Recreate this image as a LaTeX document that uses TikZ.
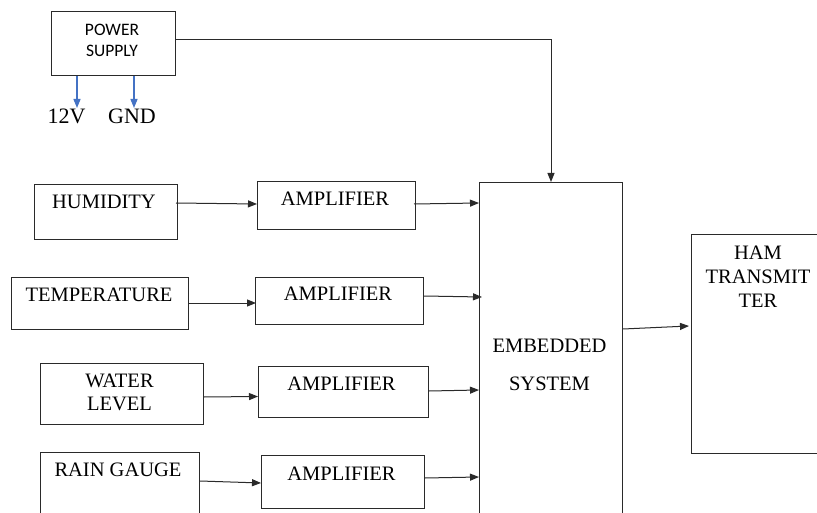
\documentclass[tikz,border=0pt]{standalone}
\usepackage{fontspec}
\setmainfont{Liberation Serif}
\newfontfamily\psfont{Carlito}
\usetikzlibrary{arrows.meta,calc}
\definecolor{linec}{HTML}{2A2A2A}
\definecolor{bluec}{HTML}{4472C4}
\begin{document}
\begin{tikzpicture}[x=1pt,y=-1pt,
  box/.style={draw=linec, line width=1pt, rectangle, anchor=north west, inner sep=0pt},
  lbl/.style={font=\rmfamily\fontsize{20.5}{24}\selectfont, align=center, inner sep=0pt, text=black},
  arr/.style={draw=linec, line width=1pt, -{Triangle[length=9pt,width=7pt]}},
  barr/.style={draw=bluec, line width=1.3pt, -{Triangle[length=9pt,width=7pt]}}]
\clip (0,0) rectangle (817,513);
\fill[white] (0,0) rectangle (817,513);
% boxes
\node[box, minimum width=124pt, minimum height=64pt] (ps) at (51,11) {};
\node[box, minimum width=143pt, minimum height=340pt] (emb) at (479,182) {};
\node[box, minimum width=140pt, minimum height=219pt] (ham) at (691,234) {};
\node[box, minimum width=143pt, minimum height=55pt] (hum) at (34,184) {};
\node[box, minimum width=158pt, minimum height=48pt] (a1) at (257,181) {};
\node[box, minimum width=177pt, minimum height=52pt] (tmp) at (11,277) {};
\node[box, minimum width=168pt, minimum height=47pt] (a2) at (255,277) {};
\node[box, minimum width=163pt, minimum height=61pt] (wat) at (40,363) {};
\node[box, minimum width=170pt, minimum height=51pt] (a3) at (258,366) {};
\node[box, minimum width=159pt, minimum height=75pt] (rain) at (40,452) {};
\node[box, minimum width=163pt, minimum height=53pt] (a4) at (261,455) {};
% texts
\node[inner sep=0pt, align=center, font=\psfont\fontsize{17.5}{21}\selectfont] (pst) at (112,40.5) {POWER\\SUPPLY};
\node[lbl, font=\rmfamily\fontsize{22}{26}\selectfont] (v12) at (66.5,116) {12V};
\node[lbl, font=\rmfamily\fontsize{22}{26}\selectfont] (gnd) at (132,116) {GND};
\node[lbl] (humt) at (104,202) {HUMIDITY};
\node[lbl] (a1t) at (335,199) {AMPLIFIER};
\node[lbl] (tmpt) at (99,295) {TEMPERATURE};
\node[lbl] (a2t) at (338,294) {AMPLIFIER};
\node[lbl, font=\rmfamily\fontsize{20.5}{22.5}\selectfont] (watt) at (119.5,392.5) {WATER\\LEVEL};
\node[lbl] (a3t) at (341.5,384) {AMPLIFIER};
\node[lbl] (raint) at (118,470) {RAIN GAUGE};
\node[lbl] (a4t) at (341.5,473.5) {AMPLIFIER};
\node[lbl, font=\rmfamily\fontsize{20.5}{38}\selectfont] (embt) at (549.5,365) {EMBEDDED\\SYSTEM};
\node[lbl, font=\rmfamily\fontsize{20.5}{24}\selectfont] (hamt) at (758,277) {HAM\\TRANSMIT\\TER};
% connectors
\coordinate (v12a) at (77,108);
\coordinate (gnda) at (134,108);
\draw[barr] (ps.south west -| v12a) -- (v12a);
\draw[barr] (ps.south west -| gnda) -- (gnda);
\draw[arr] ($(ps.north east)+(0,29)$) -| (emb.north west -| 551,0);
\draw[arr] ($(hum.north east)+(-2,19)$) -- ($(a1.north west)+(0,23)$);
\draw[arr] ($(a1.north east)+(-2,23)$) -- ($(emb.north west)+(0,21)$);
\draw[arr] ($(tmp.north east)+(0,26)$) -- ($(a2.north west)+(1,26)$);
\draw[arr] ($(a2.north east)+(0,19)$) -- ($(emb.north west)+(3,115)$);
\draw[arr] ($(wat.north east)+(0,34)$) -- ($(a3.north west)+(0,30.5)$);
\draw[arr] ($(a3.north east)+(0,25)$) -- ($(emb.north west)+(0,208)$);
\draw[arr] ($(rain.north east)+(0,29)$) -- ($(a4.north west)+(0,28)$);
\draw[arr] ($(a4.north east)+(0,23)$) -- ($(emb.north west)+(0,295)$);
\draw[arr] ($(emb.north east)+(0,147)$) -- ($(ham.north west)+(-2,92)$);
\end{tikzpicture}
\end{document}
